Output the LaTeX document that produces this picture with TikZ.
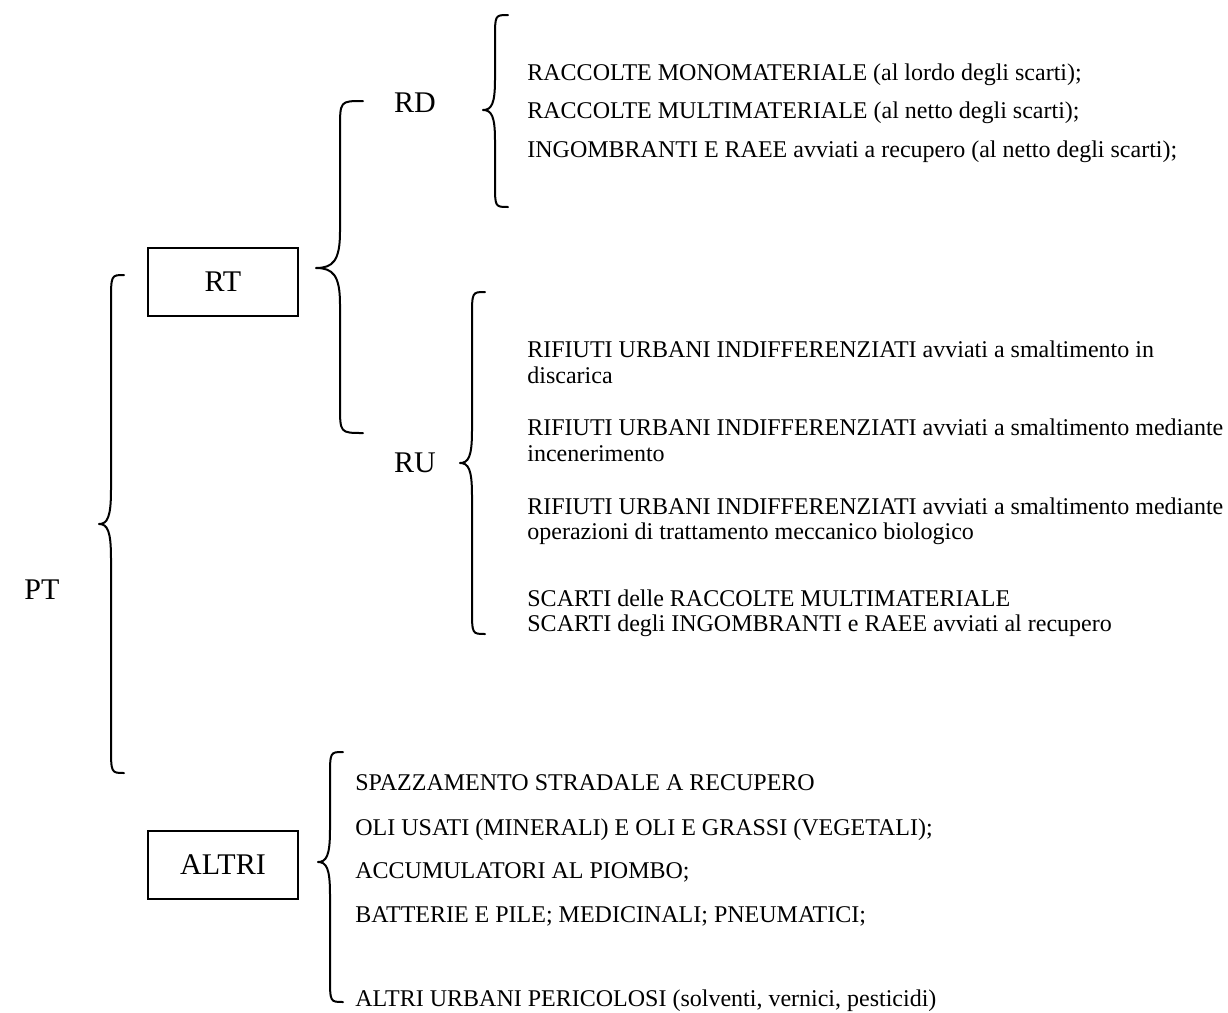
\documentclass[tikz,border=0pt]{standalone}
\usepackage{fontspec}
\setmainfont{Liberation Serif}
\newcommand{\wbrace}[8]{% xtip, xline, xend, ytop, ytip, ybot, r-end, r-tip
  \draw[bracestyle] (#3,#4) .. controls (#2,#4) .. (#2,{#4+#7})
    -- (#2,{#5-#8}) .. controls (#2,{#5-0.2*#8}) and ({#2-0.3*(#2-#1)},#5) .. (#1,#5)
    .. controls ({#2-0.3*(#2-#1)},#5) and (#2,{#5+0.2*#8}) .. (#2,{#5+#8})
    -- (#2,{#6-#7}) .. controls (#2,#6) .. (#3,#6);}
\begin{document}
\begin{tikzpicture}[x=0.5pt,y=-0.5pt,
  bracestyle/.style={line width=1pt,line cap=round,line join=round},
  boxstyle/.style={draw,line width=1pt,minimum width=75pt,minimum height=34pt,inner sep=0pt,font=\fontsize{15}{18}\selectfont},
  lbl/.style={font=\fontsize{15}{18}\selectfont,inner sep=0pt},
  item/.style={anchor=base west,font=\fontsize{12}{14}\selectfont,inner sep=0pt}]
\useasboundingbox (0,0) rectangle (1228,1013);
% labels
\node[lbl] (pt) at (42,590) {PT};
\node[boxstyle] (rt) at (223,282) {RT};
\node[lbl] (rd) at (415,103) {RD};
\node[lbl] (ru) at (415,463) {RU};
\node[boxstyle] (altri) at (223,865) {ALTRI};
% braces
\wbrace{99}{111}{124}{275}{524}{773}{28}{34}
\wbrace{316}{340}{363}{101}{268}{433}{28}{36}
\wbrace{483}{495}{508}{15}{110}{207}{24}{30}
\wbrace{460}{472}{485}{292}{463}{634}{26}{32}
\wbrace{318}{330}{343}{752}{862}{1002}{26}{32}
% RD items
\node[item] (rd1) at (527,80) {RACCOLTE MONOMATERIALE (al lordo degli scarti);};
\node[item] (rd2) at (527,118) {RACCOLTE MULTIMATERIALE (al netto degli scarti);};
\node[item] (rd3) at (527,157) {INGOMBRANTI E RAEE avviati a recupero (al netto degli scarti);};
% RU items
\node[item] (ru1a) at (527,357) {RIFIUTI URBANI INDIFFERENZIATI avviati a smaltimento in};
\node[item] (ru1b) at (527,383) {discarica};
\node[item] (ru2a) at (527,435) {RIFIUTI URBANI INDIFFERENZIATI avviati a smaltimento mediante};
\node[item] (ru2b) at (527,461) {incenerimento};
\node[item] (ru3a) at (527,514) {RIFIUTI URBANI INDIFFERENZIATI avviati a smaltimento mediante};
\node[item] (ru3b) at (527,539) {operazioni di trattamento meccanico biologico};
\node[item] (ru4a) at (527,606) {SCARTI delle RACCOLTE MULTIMATERIALE};
\node[item] (ru4b) at (527,631) {SCARTI degli INGOMBRANTI e RAEE avviati al recupero};
% ALTRI items
\node[item] (al1) at (355,790) {SPAZZAMENTO STRADALE A RECUPERO};
\node[item] (al2) at (355,835) {OLI USATI (MINERALI) E OLI E GRASSI (VEGETALI);};
\node[item] (al3) at (355,878) {ACCUMULATORI AL PIOMBO;};
\node[item] (al4) at (355,922) {BATTERIE E PILE; MEDICINALI; PNEUMATICI;};
\node[item] (al5) at (355,1006) {ALTRI URBANI PERICOLOSI (solventi, vernici, pesticidi)};
\end{tikzpicture}
\end{document}
